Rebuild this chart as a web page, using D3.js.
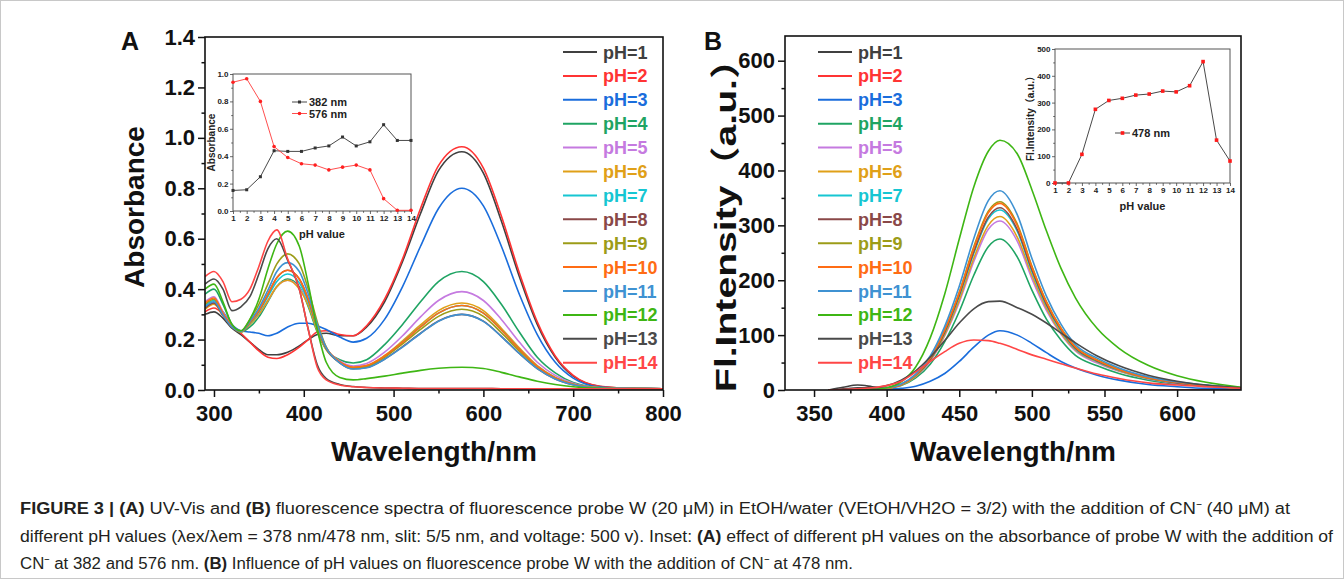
<!DOCTYPE html>
<html>
<head>
<meta charset="utf-8">
<script src="https://cdn.jsdelivr.net/npm/d3@7"></script>
<style>
  body { margin: 0; background: #fff; }
  svg { display: block; font-family: "Liberation Sans", Arial, sans-serif; }
</style>
</head>
<body>
<script>
// ---- legend / series names
var phLabels = ["pH=1", "pH=2", "pH=3", "pH=4", "pH=5", "pH=6", "pH=7",
                "pH=8", "pH=9", "pH=10", "pH=11", "pH=12", "pH=13", "pH=14"];
var phColors = ["#404040", "#ff3434", "#1a6ddc", "#1fa463", "#c57ae0", "#e0a018", "#16c6d2",
                "#8a4848", "#9c9c18", "#ff6c14", "#3f92d2", "#3eb614", "#4a4a4a", "#ff4646"];

// ---- panel A : UV-Vis absorbance
var absWavelengths = [290, 300, 310, 320, 330, 340, 350, 360, 370, 382, 395, 405, 415, 425, 440,
                      455, 470, 490, 510, 530, 550, 576, 600, 620, 640, 660, 680, 700, 730, 770, 800];
var absPH1  = [0.30, 0.31, 0.285, 0.245, 0.22, 0.19, 0.16, 0.14, 0.14, 0.15, 0.175, 0.20, 0.22, 0.225, 0.215, 0.215, 0.25, 0.35, 0.51, 0.70, 0.87, 0.945, 0.86, 0.67, 0.45, 0.26, 0.13, 0.055, 0.014, 0.006, 0.005];
var absPH2  = [0.31, 0.325, 0.30, 0.255, 0.225, 0.19, 0.155, 0.13, 0.125, 0.14, 0.17, 0.20, 0.23, 0.235, 0.22, 0.215, 0.255, 0.36, 0.52, 0.72, 0.89, 0.965, 0.88, 0.69, 0.465, 0.27, 0.135, 0.058, 0.015, 0.006, 0.005];
var absPH3  = [0.33, 0.345, 0.31, 0.26, 0.235, 0.23, 0.225, 0.215, 0.225, 0.25, 0.265, 0.265, 0.255, 0.24, 0.21, 0.19, 0.205, 0.28, 0.41, 0.57, 0.72, 0.80, 0.73, 0.57, 0.38, 0.22, 0.11, 0.047, 0.012, 0.006, 0.005];
var absPH4  = [0.38, 0.40, 0.34, 0.26, 0.23, 0.25, 0.29, 0.35, 0.41, 0.44, 0.41, 0.33, 0.23, 0.16, 0.12, 0.107, 0.12, 0.18, 0.26, 0.35, 0.43, 0.47, 0.43, 0.34, 0.23, 0.13, 0.068, 0.03, 0.01, 0.006, 0.005];
var absPH5  = [0.35, 0.37, 0.31, 0.255, 0.232, 0.262, 0.30, 0.355, 0.41, 0.435, 0.405, 0.34, 0.24, 0.165, 0.115, 0.095, 0.105, 0.15, 0.215, 0.29, 0.355, 0.39, 0.355, 0.28, 0.19, 0.11, 0.058, 0.027, 0.009, 0.006, 0.005];
var absPH6  = [0.32, 0.34, 0.295, 0.25, 0.23, 0.26, 0.30, 0.355, 0.41, 0.435, 0.40, 0.335, 0.235, 0.16, 0.11, 0.09, 0.097, 0.137, 0.195, 0.258, 0.315, 0.345, 0.315, 0.245, 0.167, 0.097, 0.05, 0.024, 0.009, 0.006, 0.005];
var absPH7  = [0.335, 0.355, 0.30, 0.252, 0.232, 0.265, 0.31, 0.37, 0.43, 0.46, 0.425, 0.35, 0.245, 0.165, 0.11, 0.088, 0.095, 0.133, 0.19, 0.25, 0.305, 0.335, 0.305, 0.238, 0.162, 0.094, 0.049, 0.023, 0.009, 0.006, 0.005];
var absPH8  = [0.325, 0.345, 0.295, 0.25, 0.232, 0.268, 0.315, 0.38, 0.445, 0.475, 0.44, 0.36, 0.25, 0.165, 0.108, 0.084, 0.089, 0.123, 0.172, 0.225, 0.274, 0.30, 0.273, 0.213, 0.145, 0.085, 0.044, 0.021, 0.008, 0.006, 0.005];
var absPH9  = [0.34, 0.36, 0.30, 0.252, 0.234, 0.28, 0.34, 0.42, 0.50, 0.54, 0.50, 0.40, 0.27, 0.17, 0.11, 0.087, 0.093, 0.13, 0.183, 0.24, 0.292, 0.32, 0.292, 0.227, 0.155, 0.09, 0.047, 0.022, 0.008, 0.006, 0.005];
var absPH10 = [0.345, 0.365, 0.305, 0.254, 0.233, 0.268, 0.315, 0.38, 0.445, 0.475, 0.44, 0.36, 0.25, 0.168, 0.112, 0.09, 0.097, 0.135, 0.19, 0.25, 0.305, 0.335, 0.305, 0.238, 0.162, 0.094, 0.049, 0.023, 0.009, 0.006, 0.005];
var absPH11 = [0.33, 0.35, 0.297, 0.25, 0.233, 0.273, 0.325, 0.395, 0.47, 0.505, 0.47, 0.38, 0.26, 0.168, 0.108, 0.083, 0.088, 0.122, 0.17, 0.224, 0.273, 0.30, 0.272, 0.212, 0.145, 0.085, 0.044, 0.021, 0.008, 0.006, 0.005];
var absPH12 = [0.40, 0.42, 0.35, 0.26, 0.235, 0.28, 0.36, 0.48, 0.58, 0.63, 0.57, 0.42, 0.24, 0.11, 0.05, 0.04, 0.045, 0.055, 0.067, 0.078, 0.086, 0.09, 0.085, 0.07, 0.052, 0.035, 0.022, 0.013, 0.007, 0.005, 0.005];
var absPH13 = [0.42, 0.44, 0.40, 0.315, 0.33, 0.37, 0.46, 0.56, 0.60, 0.515, 0.40, 0.24, 0.10, 0.045, 0.022, 0.014, 0.01, 0.008, 0.007, 0.006, 0.006, 0.006, 0.006, 0.005, 0.005, 0.005, 0.005, 0.005, 0.005, 0.005, 0.005];
var absPH14 = [0.45, 0.47, 0.43, 0.35, 0.36, 0.40, 0.49, 0.59, 0.635, 0.52, 0.40, 0.24, 0.09, 0.04, 0.02, 0.013, 0.01, 0.008, 0.007, 0.006, 0.006, 0.006, 0.006, 0.005, 0.005, 0.005, 0.005, 0.005, 0.005, 0.005, 0.005];

// ---- panel B : fluorescence intensity
var flWavelengths = [360, 370, 380, 390, 400, 410, 420, 430, 440, 450, 460, 470, 478, 490, 500, 510, 520, 530, 545, 560, 580, 600, 620, 644];
var flPH1  = [0, 5, 9, 6, 2, 1, 0, 0, 0, 0, 0, 0, 0, 0, 0, 0, 0, 0, 0, 0, 0, 0, 0, 0];
var flPH2  = [0, 0, 0, 0, 0, 0, 0, 0, 0, 0, 0, 0, 0, 0, 0, 0, 0, 0, 0, 0, 0, 0, 0, 0];
var flPH3  = [0, 0, 0, 0, 1, 3, 7, 16, 30, 52, 78, 100, 108, 100, 85, 68, 52, 40, 27, 18, 10, 6, 3, 2];
var flPH4  = [0, 0, 0, 1, 3, 8, 22, 47, 88, 143, 209, 261, 275, 242, 182, 129, 91, 63, 44, 30, 18, 11, 7, 3];
var flPH5  = [0, 0, 0, 1, 3, 9, 25, 52, 99, 160, 234, 293, 308, 271, 203, 145, 102, 71, 49, 34, 20, 12, 7, 4];
var flPH6  = [0, 0, 0, 1, 3, 9, 25, 54, 101, 164, 240, 300, 316, 278, 209, 149, 104, 73, 51, 35, 21, 13, 8, 4];
var flPH7  = [0, 0, 0, 1, 3, 10, 26, 56, 105, 171, 249, 312, 328, 289, 216, 154, 108, 75, 52, 36, 21, 13, 8, 4];
var flPH8  = [0, 0, 0, 1, 3, 10, 27, 56, 106, 173, 252, 315, 332, 292, 219, 156, 110, 76, 53, 37, 22, 13, 8, 4];
var flPH9  = [0, 0, 0, 1, 3, 10, 27, 58, 110, 178, 261, 326, 343, 302, 226, 161, 113, 79, 55, 38, 22, 14, 8, 4];
var flPH10 = [0, 0, 0, 1, 3, 10, 27, 58, 109, 177, 258, 323, 340, 299, 224, 160, 112, 78, 54, 37, 22, 14, 8, 4];
var flPH11 = [0, 0, 0, 1, 4, 11, 29, 62, 116, 189, 276, 345, 363, 319, 240, 171, 120, 83, 58, 40, 24, 15, 9, 4];
var flPH12 = [0, 0, 0, 1, 4, 15, 42, 95, 175, 275, 370, 435, 455, 430, 365, 290, 222, 168, 112, 76, 45, 26, 14, 5];
var flPH13 = [0, 2, 4, 4, 8, 18, 35, 60, 90, 122, 148, 161, 162, 150, 138, 122, 104, 86, 62, 44, 27, 16, 9, 4];
var flPH14 = [0, 1, 2, 4, 8, 16, 33, 52, 70, 85, 91, 90, 85, 74, 64, 56, 48, 40, 29, 21, 13, 9, 6, 3];

// ---- insets
var insetPH = [1, 2, 3, 4, 5, 6, 7, 8, 9, 10, 11, 12, 13, 14];
var abs382 = [0.15, 0.155, 0.25, 0.44, 0.435, 0.435, 0.46, 0.475, 0.54, 0.475, 0.505, 0.63, 0.515, 0.515];
var abs576 = [0.94, 0.965, 0.80, 0.47, 0.39, 0.345, 0.335, 0.30, 0.32, 0.335, 0.30, 0.09, 0.005, 0.005];
var fl478  = [0, 0, 107, 275, 308, 316, 328, 332, 343, 340, 363, 453, 160, 82];

// ---- tick values
var absXTicks = [300, 400, 500, 600, 700, 800];
var absYTicks = [0, 0.2, 0.4, 0.6, 0.8, 1.0, 1.2, 1.4];
var flXTicks = [350, 400, 450, 500, 550, 600];
var flYTicks = [0, 100, 200, 300, 400, 500, 600];

var absSpectra = [absPH1, absPH2, absPH3, absPH4, absPH5, absPH6, absPH7, absPH8, absPH9, absPH10, absPH11, absPH12, absPH13, absPH14];
var flSpectra = [flPH1, flPH2, flPH3, flPH4, flPH5, flPH6, flPH7, flPH8, flPH9, flPH10, flPH11, flPH12, flPH13, flPH14];

var svg = d3.select("body").append("svg")
    .attr("width", 1344)
    .attr("height", 579);

svg.append("rect")
    .attr("x", 0.5).attr("y", 0.5)
    .attr("width", 1343).attr("height", 578)
    .attr("fill", "#fff")
    .attr("stroke", "#c8c8c8");

function minorTicks(lo, hi, step) {
    return d3.range(lo, hi + step / 2, step);
}

// one big spectra panel: frame, axes, curves, legend
function drawPanel(cfg) {
    var x = d3.scaleLinear().domain(cfg.xDomain).range([cfg.left, cfg.right]);
    var y = d3.scaleLinear().domain(cfg.yDomain).range([cfg.bottom, cfg.top]);
    var g = svg.append("g");

    // minor ticks first
    g.append("g")
        .attr("transform", "translate(0," + cfg.bottom + ")")
        .call(d3.axisBottom(x).tickValues(cfg.xMinor).tickSize(3.5).tickFormat(""));
    g.append("g")
        .attr("transform", "translate(" + cfg.left + ",0)")
        .call(d3.axisLeft(y).tickValues(cfg.yMinor).tickSize(3.5).tickFormat(""));

    var xAxis = g.append("g")
        .attr("transform", "translate(0," + cfg.bottom + ")")
        .call(d3.axisBottom(x).tickValues(cfg.xTicks).tickSize(7).tickPadding(8).tickFormat(d3.format("d")));
    var yAxis = g.append("g")
        .attr("transform", "translate(" + cfg.left + ",0)")
        .call(d3.axisLeft(y).tickValues(cfg.yTicks).tickSize(7).tickPadding(cfg.yPad).tickFormat(d3.format(cfg.yFormat)));

    g.selectAll(".domain").remove();
    g.selectAll(".tick line").attr("stroke", "#111").attr("stroke-width", 1.5);
    xAxis.selectAll("text").attr("font-size", 22).attr("font-weight", "bold").attr("fill", "#111");
    yAxis.selectAll("text").attr("font-size", 22).attr("font-weight", "bold").attr("fill", "#111");

    // clip the curves to the frame
    svg.append("clipPath").attr("id", cfg.id + "clip")
      .append("rect")
        .attr("x", cfg.left).attr("y", cfg.top)
        .attr("width", cfg.right - cfg.left).attr("height", cfg.bottom - cfg.top);

    var line = d3.line()
        .x(function(d) { return x(d[0]); })
        .y(function(d) { return y(d[1]); })
        .curve(d3.curveMonotoneX);

    g.append("g")
        .attr("clip-path", "url(#" + cfg.id + "clip)")
      .selectAll("path")
        .data(cfg.spectra)
      .enter().append("path")
        .attr("fill", "none")
        .attr("stroke", function(d, i) { return phColors[i]; })
        .attr("stroke-width", 1.6)
        .attr("d", function(vals) {
            return line(vals.map(function(v, k) { return [cfg.wavelengths[k], v]; }));
        });

    g.append("rect")
        .attr("x", cfg.left).attr("y", cfg.top)
        .attr("width", cfg.right - cfg.left).attr("height", cfg.bottom - cfg.top)
        .attr("fill", "none")
        .attr("stroke", "#111")
        .attr("stroke-width", 1.6);

    // legend
    var leg = g.append("g").selectAll("g")
        .data(phLabels)
      .enter().append("g")
        .attr("transform", function(d, i) { return "translate(" + cfg.legX + "," + (52 + i * 23.9) + ")"; });
    leg.append("line")
        .attr("x1", 0).attr("x2", 34)
        .attr("stroke", function(d, i) { return phColors[i]; })
        .attr("stroke-width", 2);
    leg.append("text")
        .attr("x", 40).attr("y", 6.5)
        .attr("font-size", 18).attr("font-weight", "bold")
        .attr("fill", function(d, i) { return phColors[i]; })
        .text(function(d) { return d; });

    // axis titles
    g.append("text")
        .attr("x", (cfg.left + cfg.right) / 2).attr("y", 461)
        .attr("text-anchor", "middle")
        .attr("font-size", 28).attr("font-weight", "bold").attr("fill", "#111")
        .text("Wavelength/nm");
    var yt = g.append("text")
        .attr("transform", "translate(" + cfg.yTitleX + "," + cfg.yTitleY + ") rotate(-90)")
        .attr("text-anchor", "middle")
        .attr("font-size", cfg.yTitleSize).attr("font-weight", "bold").attr("fill", "#111")
        .style("font-family", "'Liberation Sans', Arial, 'Noto Sans CJK SC', sans-serif")
        .text(cfg.yTitle);
    if (cfg.yTitleLen) {
        yt.attr("textLength", cfg.yTitleLen).attr("lengthAdjust", "spacingAndGlyphs");
    }
    g.append("text")
        .attr("x", cfg.letterX).attr("y", 50)
        .attr("font-size", 25).attr("font-weight", "bold").attr("fill", "#111")
        .text(cfg.letter);
}

// small inset plot of one wavelength against pH
function drawInset(cfg) {
    var x = d3.scaleLinear().domain([1, 14]).range([cfg.left, cfg.right]);
    var y = d3.scaleLinear().domain(cfg.yDomain).range([cfg.bottom, cfg.top]);
    var g = svg.append("g");

    g.append("rect")
        .attr("x", cfg.left).attr("y", cfg.top)
        .attr("width", cfg.right - cfg.left).attr("height", cfg.bottom - cfg.top)
        .attr("fill", "#fff").attr("stroke", "#555").attr("stroke-width", 1);

    g.append("g")
        .attr("transform", "translate(0," + cfg.bottom + ")")
        .call(d3.axisBottom(x).tickValues(minorTicks(1.5, 13.5, 1)).tickSize(1.8).tickFormat(""));
    g.append("g")
        .attr("transform", "translate(" + cfg.left + ",0)")
        .call(d3.axisLeft(y).tickValues(cfg.yMinor).tickSize(1.8).tickFormat(""));
    g.append("g")
        .attr("transform", "translate(0," + cfg.bottom + ")")
        .call(d3.axisBottom(x).tickValues(insetPH).tickSize(3).tickPadding(1.5));
    g.append("g")
        .attr("transform", "translate(" + cfg.left + ",0)")
        .call(d3.axisLeft(y).tickValues(cfg.yTicks).tickSize(3).tickPadding(1.5).tickFormat(d3.format(cfg.yFormat)));
    g.selectAll(".domain").remove();
    g.selectAll(".tick line").attr("stroke", "#444").attr("stroke-width", 0.8);
    g.selectAll(".tick text").attr("font-size", 8).attr("font-weight", "bold").attr("fill", "#222");

    g.append("text")
        .attr("x", (cfg.left + cfg.right) / 2).attr("y", cfg.bottom + 27)
        .attr("text-anchor", "middle")
        .attr("font-size", 11).attr("font-weight", "bold").attr("fill", "#222")
        .text("pH value");
    g.append("text")
        .attr("transform", "translate(" + cfg.yTitleX + "," + ((cfg.top + cfg.bottom) / 2) + ") rotate(-90)")
        .attr("text-anchor", "middle")
        .attr("font-size", 10).attr("font-weight", "bold").attr("fill", "#222")
        .style("font-family", "'Liberation Sans', Arial, 'Noto Sans CJK SC', sans-serif")
        .text(cfg.yTitle);

    var line = d3.line()
        .x(function(d, i) { return x(insetPH[i]); })
        .y(function(d) { return y(d); });

    cfg.series.forEach(function(s, k) {
        g.append("path")
            .attr("d", line(s.values))
            .attr("fill", "none")
            .attr("stroke", s.line)
            .attr("stroke-width", 0.9);
        drawMarkers(g, s, s.values.map(function(v, i) { return [x(insetPH[i]), y(v)]; }));

        // legend entry
        var ly = cfg.legY + k * 11.5;
        g.append("line")
            .attr("x1", cfg.legX).attr("x2", cfg.legX + 15)
            .attr("y1", ly).attr("y2", ly)
            .attr("stroke", s.line).attr("stroke-width", 0.9);
        drawMarkers(g, s, [[cfg.legX + 7.5, ly]]);
        g.append("text")
            .attr("x", cfg.legX + 17).attr("y", ly + 4)
            .attr("font-size", 11).attr("font-weight", "bold").attr("fill", "#222")
            .text(s.name);
    });
}

function drawMarkers(g, s, pts) {
    if (s.shape === "circle") {
        g.selectAll(null).data(pts).enter().append("circle")
            .attr("cx", function(p) { return p[0]; })
            .attr("cy", function(p) { return p[1]; })
            .attr("r", 1.8)
            .attr("fill", s.mark);
    } else {
        g.selectAll(null).data(pts).enter().append("rect")
            .attr("x", function(p) { return p[0] - s.size / 2; })
            .attr("y", function(p) { return p[1] - s.size / 2; })
            .attr("width", s.size).attr("height", s.size)
            .attr("fill", s.mark);
    }
}

drawPanel({
    id: "a", left: 205, right: 663, top: 37, bottom: 390,
    xDomain: [290, 800], yDomain: [0, 1.4],
    xTicks: absXTicks, yTicks: absYTicks,
    xMinor: minorTicks(350, 750, 100), yMinor: minorTicks(0.1, 1.3, 0.2),
    yFormat: ".1f", yPad: 3,
    wavelengths: absWavelengths, spectra: absSpectra,
    legX: 563, yTitle: "Absorbance", yTitleX: 144, yTitleY: 207, yTitleSize: 28,
    letter: "A", letterX: 121
});

drawPanel({
    id: "b", left: 785, right: 1241, top: 36, bottom: 390,
    xDomain: [330, 644], yDomain: [0, 645],
    xTicks: flXTicks, yTicks: flYTicks,
    xMinor: minorTicks(375, 625, 50), yMinor: minorTicks(50, 550, 100),
    yFormat: "d", yPad: 3,
    wavelengths: flWavelengths, spectra: flSpectra,
    legX: 818, yTitle: "Fl.Intensity（a.u.）", yTitleX: 736, yTitleY: 216, yTitleSize: 30, yTitleLen: 352,
    letter: "B", letterX: 704
});

drawInset({
    left: 233, right: 411, top: 74, bottom: 211,
    yDomain: [0, 1], yTicks: [0, 0.2, 0.4, 0.6, 0.8, 1.0], yMinor: minorTicks(0.1, 0.9, 0.2), yFormat: ".1f",
    yTitle: "Absorbance", yTitleX: 215,
    legX: 292, legY: 102,
    series: [
        {name: "382 nm", values: abs382, line: "#333", mark: "#333", shape: "square", size: 3},
        {name: "576 nm", values: abs576, line: "#ff3a3a", mark: "#ff2020", shape: "circle"}
    ]
});

drawInset({
    left: 1055, right: 1230, top: 49, bottom: 183,
    yDomain: [0, 500], yTicks: [0, 100, 200, 300, 400, 500], yMinor: minorTicks(50, 450, 100), yFormat: "d",
    yTitle: "Fl.Intensity（a.u.）", yTitleX: 1034,
    legX: 1115, legY: 133,
    series: [
        {name: "478 nm", values: fl478, line: "#333", mark: "#ff1a1a", shape: "square", size: 3.6}
    ]
});

// caption under the figure
var caption = [
    {w: 1270, parts: [["FIGURE 3 | ", 1], ["(A)", 1], [" UV-Vis and ", 0], ["(B)", 1],
        [" fluorescence spectra of fluorescence probe W (20 μM) in EtOH/water (VEtOH/VH2O = 3/2) with the addition of CN⁻ (40 μM) at", 0]]},
    {w: 1313, parts: [["different pH values (λex/λem = 378 nm/478 nm, slit: 5/5 nm, and voltage: 500 v). Inset: ", 0], ["(A)", 1],
        [" effect of different pH values on the absorbance of probe W with the addition of", 0]]},
    {w: 833, parts: [["CN⁻ at 382 and 576 nm. ", 0], ["(B)", 1],
        [" Influence of pH values on fluorescence probe W with the addition of CN⁻ at 478 nm.", 0]]}
];

svg.append("g").selectAll("text")
    .data(caption)
  .enter().append("text")
    .attr("x", 20)
    .attr("y", function(d, i) { return 514 + i * 27.5; })
    .attr("textLength", function(d) { return d.w; })
    .attr("lengthAdjust", "spacingAndGlyphs")
    .attr("font-size", 16)
    .attr("fill", "#231f20")
    .style("font-family", "'Liberation Sans Narrow', 'Liberation Sans', Arial, sans-serif")
    .each(function(d) {
        var t = d3.select(this);
        d.parts.forEach(function(p) {
            t.append("tspan")
                .attr("font-weight", p[1] ? "bold" : "normal")
                .text(p[0]);
        });
    });
</script>
</body>
</html>
